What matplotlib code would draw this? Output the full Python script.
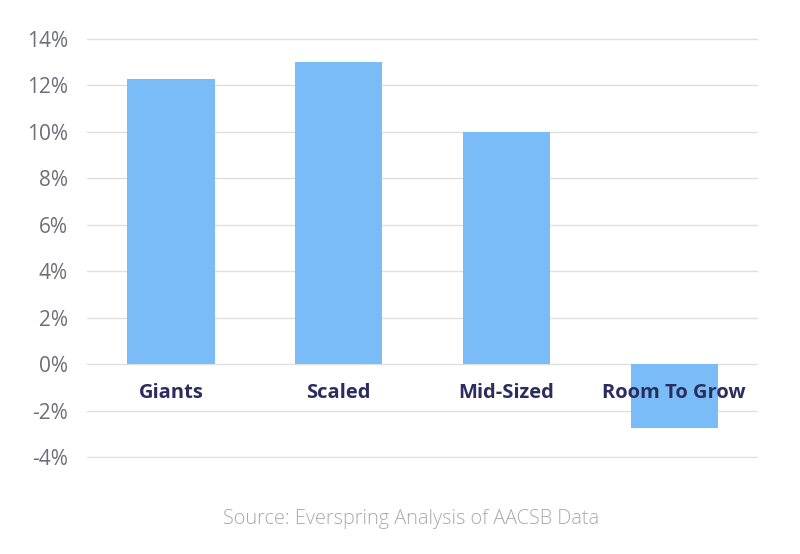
import matplotlib
matplotlib.use('Agg')
import matplotlib.pyplot as plt

categories = ['Giants', 'Scaled', 'Mid-Sized', 'Room To Grow']
growth = [12.28, 13.0, 10.0, -2.76]
y_ticks = [-4, -2, 0, 2, 4, 6, 8, 10, 12, 14]

plt.rcParams['font.family'] = ['Open Sans', 'DejaVu Sans']

fig = plt.figure(figsize=(8, 5.54), dpi=100)
ax = fig.add_axes([0.109, 0.173, 0.8385, 0.7586])

x = range(len(categories))
ax.bar(x, growth, width=0.52, color='#7abcf8', zorder=2)

for i, name in enumerate(categories):
    ax.text(i, -1.25, name, ha='center', va='center', fontsize=14.5,
            fontweight='bold', color='#2b2d5e', zorder=3)

ax.set_xlim(-0.5, 3.5)
ax.set_ylim(-4.05, 14.05)
ax.set_yticks(y_ticks)
ax.set_yticklabels([f'{t}%' for t in y_ticks], fontsize=15, color='#6e6e7a')
ax.set_xticks([])
ax.tick_params(axis='y', length=0, pad=14)
ax.grid(axis='y', color='#e0e0e0', linewidth=1, zorder=0)
for s in ax.spines.values():
    s.set_visible(False)

fig.text(0.514, 0.064, 'Source: Everspring Analysis of AACSB Data', ha='center',
         va='center', fontsize=14.3, color='#aaaaaa', fontweight='light')

fig.savefig('out.png', dpi=100)
